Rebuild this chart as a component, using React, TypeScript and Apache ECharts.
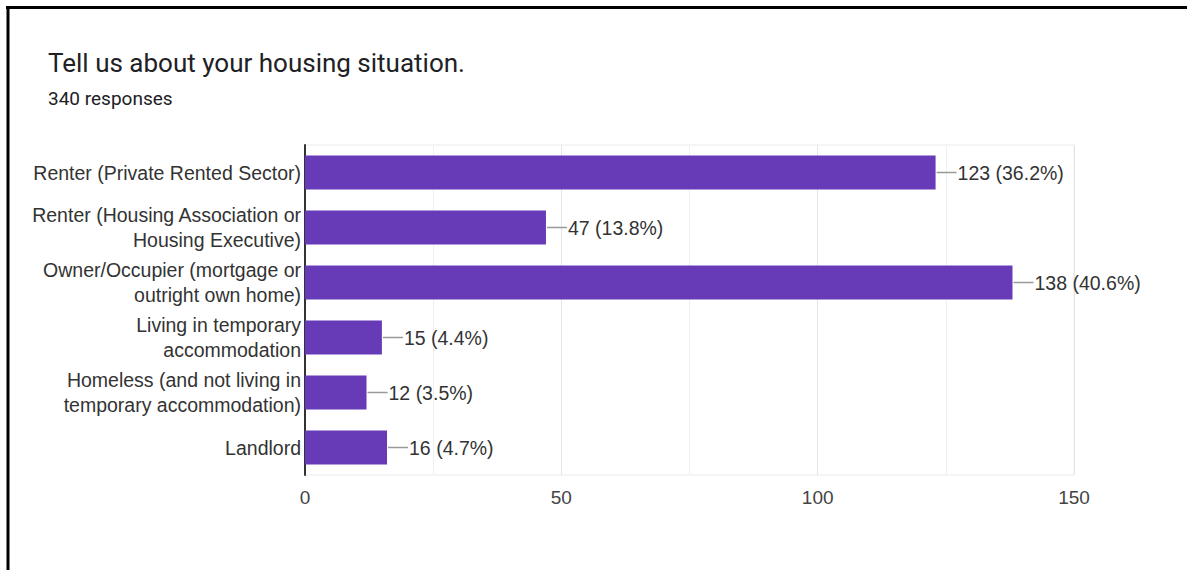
import React, { useEffect, useRef } from "react";
import * as echarts from "echarts";

const titleText = "Tell us about your housing situation.";
const subtitleText = "340 responses";
const categories = [
  "Renter (Private Rented Sector)",
  "Renter (Housing Association or\nHousing Executive)",
  "Owner/Occupier (mortgage or\noutright own home)",
  "Living in temporary\naccommodation",
  "Homeless (and not living in\ntemporary accommodation)",
  "Landlord",
];
const counts = [123, 47, 138, 15, 12, 16];
const percents = ["36.2%", "13.8%", "40.6%", "4.4%", "3.5%", "4.7%"];
const xTicks = [0, 50, 100, 150];

export default function App() {
  const ref = useRef<HTMLDivElement>(null);
  useEffect(() => {
    if (!ref.current) return;
    const chart = echarts.init(ref.current, null, { renderer: "svg" });
    const font = "Arial, 'Liberation Sans', Helvetica, sans-serif";
    chart.setOption({
      animation: false,
      backgroundColor: "#ffffff",
      textStyle: { fontFamily: font },
      title: [
        {
          text: titleText,
          left: 43,
          top: 45,
          padding: 5,
          textStyle: { fontFamily: "Roboto, Arial, sans-serif", fontSize: 26, fontWeight: "normal", color: "#202124" },
        },
        {
          text: subtitleText,
          left: 43,
          top: 84,
          padding: 5,
          textStyle: { fontFamily: "Roboto, Arial, sans-serif", fontSize: 19, fontWeight: "normal", color: "#202124" },
        },
      ],
      graphic: [
        { type: "line", shape: { x1: 6, y1: 7.5, x2: 1190, y2: 7.5 }, style: { stroke: "#000", lineWidth: 3 } },
        { type: "line", shape: { x1: 8, y1: 6, x2: 8, y2: 575 }, style: { stroke: "#000", lineWidth: 3 } },
      ],
      grid: {
        left: 305,
        right: 113,
        top: 145,
        bottom: 95,
        show: true,
        borderColor: "#ebebeb",
        borderWidth: 1,
      },
      xAxis: {
        type: "value",
        min: xTicks[0],
        max: xTicks[xTicks.length - 1],
        interval: 50,
        axisLine: { show: false },
        axisTick: { show: false },
        axisLabel: { color: "#444", fontSize: 19, margin: 13, fontFamily: font },
        splitLine: { show: true, lineStyle: { color: "#e6e6e6", width: 1 } },
        minorTick: { show: false, splitNumber: 2 },
        minorSplitLine: { show: true, lineStyle: { color: "#f0f0f0", width: 1 } },
      },
      yAxis: {
        type: "category",
        data: categories,
        inverse: true,
        axisLine: { show: true, lineStyle: { color: "#333", width: 2 } },
        axisTick: { show: false },
        axisLabel: {
          color: "#333",
          fontSize: 19.5,
          lineHeight: 25,
          margin: 4,
          align: "right",
          fontFamily: font,
        },
      },
      series: [
        {
          type: "bar",
          data: counts,
          barWidth: 34,
          itemStyle: { color: "#673ab7" },
          label: {
            show: true,
            position: "right",
            distance: 1,
            formatter: (p: any) => `{line|}{val|${counts[p.dataIndex]} (${percents[p.dataIndex]})}`,
            rich: {
              line: { width: 20, height: 1.5, backgroundColor: "#999" },
              val: { fontSize: 19.5, color: "#333", fontFamily: font, padding: [0, 0, 0, 1] },
            },
          },
        },
      ],
    });
    return () => chart.dispose();
  }, []);
  return (
    <div
      ref={ref}
      style={{ position: "absolute", left: 0, top: 0, width: 1187, height: 570 }}
    />
  );
}
